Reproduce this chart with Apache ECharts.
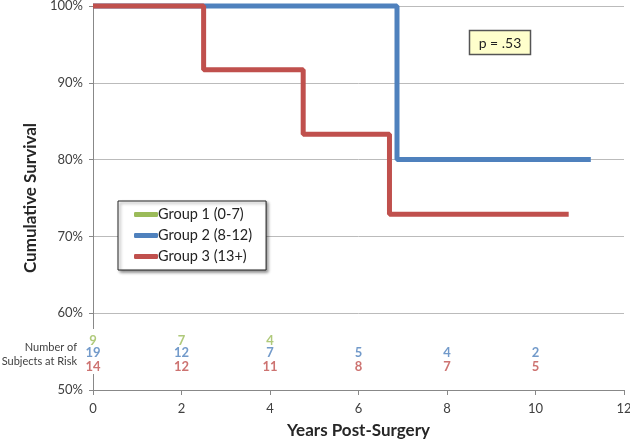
<!DOCTYPE html>
<html>
<head>
<meta charset="utf-8">
<script src="https://cdn.jsdelivr.net/npm/echarts@6/dist/echarts.min.js"></script>
<style>html,body{margin:0;padding:0;background:#fff;}#c{width:630px;height:441px;}</style>
</head>
<body>
<div id="c"></div>
<script>
// Survival step data (years, cumulative survival %)
var g1Times = [0, 2.4];
var g1Surv = [100, 100];
var g2Times = [0, 6.87, 11.25];
var g2Surv = [100, 80, 80];
var g3Times = [0, 2.5, 4.75, 6.7, 10.75];
var g3Surv = [100, 91.7, 83.3, 72.9, 72.9];

// Number at risk
var riskTimes = [0, 2, 4, 6, 8, 10];
var risk1 = [9, 7, 4];
var risk2 = [19, 12, 7, 5, 4, 2];
var risk3 = [14, 12, 11, 8, 7, 5];
var riskRowY = [56.4, 54.8, 53.0];

var groupNames = ['Group 1 (0-7)', 'Group 2 (8-12)', 'Group 3 (13+)'];
var colors = ['#9BBB59', '#4F81BD', '#C0504D'];
var pText = 'p = .53';
var riskLabel = 'Number of\nSubjects at Risk';
var font = 'Lato, "Open Sans", sans-serif';

function pairs(xs, ys) { return xs.map(function (x, i) { return [x, ys[i]]; }); }
function riskData(counts, row) {
  return counts.map(function (c, i) { return [riskTimes[i], riskRowY[row], c]; });
}

var chart = echarts.init(document.getElementById('c'), null, {renderer: 'canvas'});
var stepSeries = [[g1Times, g1Surv], [g2Times, g2Surv], [g3Times, g3Surv]].map(function (d, i) {
  return {
    name: groupNames[i], type: 'line', step: 'end', data: pairs(d[0], d[1]),
    symbol: 'none', clip: false, z: 2 + i,
    lineStyle: {color: colors[i], width: i === 0 ? 3 : 5, cap: 'butt'},
    itemStyle: {color: colors[i]}, animation: false
  };
});
var riskSeries = [risk1, risk2, risk3].map(function (r, i) {
  return {
    type: 'scatter', data: riskData(r, i), symbolSize: 0, silent: true, z: 10,
    label: {show: true, position: 'inside', formatter: function (p) { return p.value[2]; },
      color: colors[i], fontSize: 13, fontFamily: font, fontWeight: 'bold'},
    animation: false
  };
});

chart.setOption({
  backgroundColor: '#fff',
  animation: false,
  textStyle: {fontFamily: font},
  grid: {left: 93, right: 6, top: 6, bottom: 51, containLabel: false, outerBoundsMode: 'none'},
  legend: {
    data: groupNames, orient: 'vertical', left: 118, top: 201,
    icon: 'roundRect', itemWidth: 24, itemHeight: 5, itemGap: 6,
    padding: [6, 14, 6, 16],
    backgroundColor: '#fff', borderColor: '#222', borderWidth: 1,
    shadowColor: 'rgba(0,0,0,0.45)', shadowBlur: 3, shadowOffsetX: 2, shadowOffsetY: 2,
    itemStyle: {borderWidth: 0},
    textStyle: {fontSize: 14.5, color: '#222', fontFamily: font, padding: [0, 0, 0, -5]}
  },
  xAxis: {
    type: 'value', min: 0, max: 12, interval: 2,
    name: 'Years Post-Surgery', nameLocation: 'middle', nameGap: 32,
    nameTextStyle: {fontSize: 17, fontWeight: 'bold', color: '#262626', fontFamily: font},
    axisLine: {show: true, lineStyle: {color: '#888', width: 1}},
    axisTick: {show: true, length: 5, lineStyle: {color: '#888'}},
    axisLabel: {fontSize: 13, color: '#404040', margin: 12, fontFamily: font},
    splitLine: {show: false}
  },
  yAxis: {
    type: 'value', min: 50, max: 100, interval: 10,
    name: 'Cumulative Survival', nameLocation: 'middle', nameGap: 52,
    nameTextStyle: {fontSize: 17, fontWeight: 'bold', color: '#262626', fontFamily: font},
    axisLine: {show: true, lineStyle: {color: '#888', width: 1}},
    axisTick: {show: true, length: 4, lineStyle: {color: '#888'}},
    axisLabel: {fontSize: 13, color: '#404040', margin: 10, formatter: '{value}%', fontFamily: font},
    splitLine: {show: true, lineStyle: {color: '#bbb', width: 1}}
  },
  graphic: [
    {type: 'rect', shape: {x: 89, y: 329, width: 9, height: 45}, style: {fill: '#fff'}, z: 5},
    {type: 'text', style: {x: 77, y: 354, text: riskLabel, align: 'right', verticalAlign: 'middle',
      fontSize: 11, lineHeight: 14, fill: '#404040', fontFamily: font}, z: 6},
    {type: 'rect', shape: {x: 469.5, y: 30.5, width: 61, height: 24}, style: {fill: '#FFFFCC', stroke: '#555', lineWidth: 1.5},
      z: 6},
    {type: 'text', style: {x: 500, y: 43, text: pText, align: 'center', verticalAlign: 'middle',
      fontSize: 14, fill: '#222', fontFamily: font}, z: 7}
  ],
  series: stepSeries.concat(riskSeries)
});
</script>
</body>
</html>
